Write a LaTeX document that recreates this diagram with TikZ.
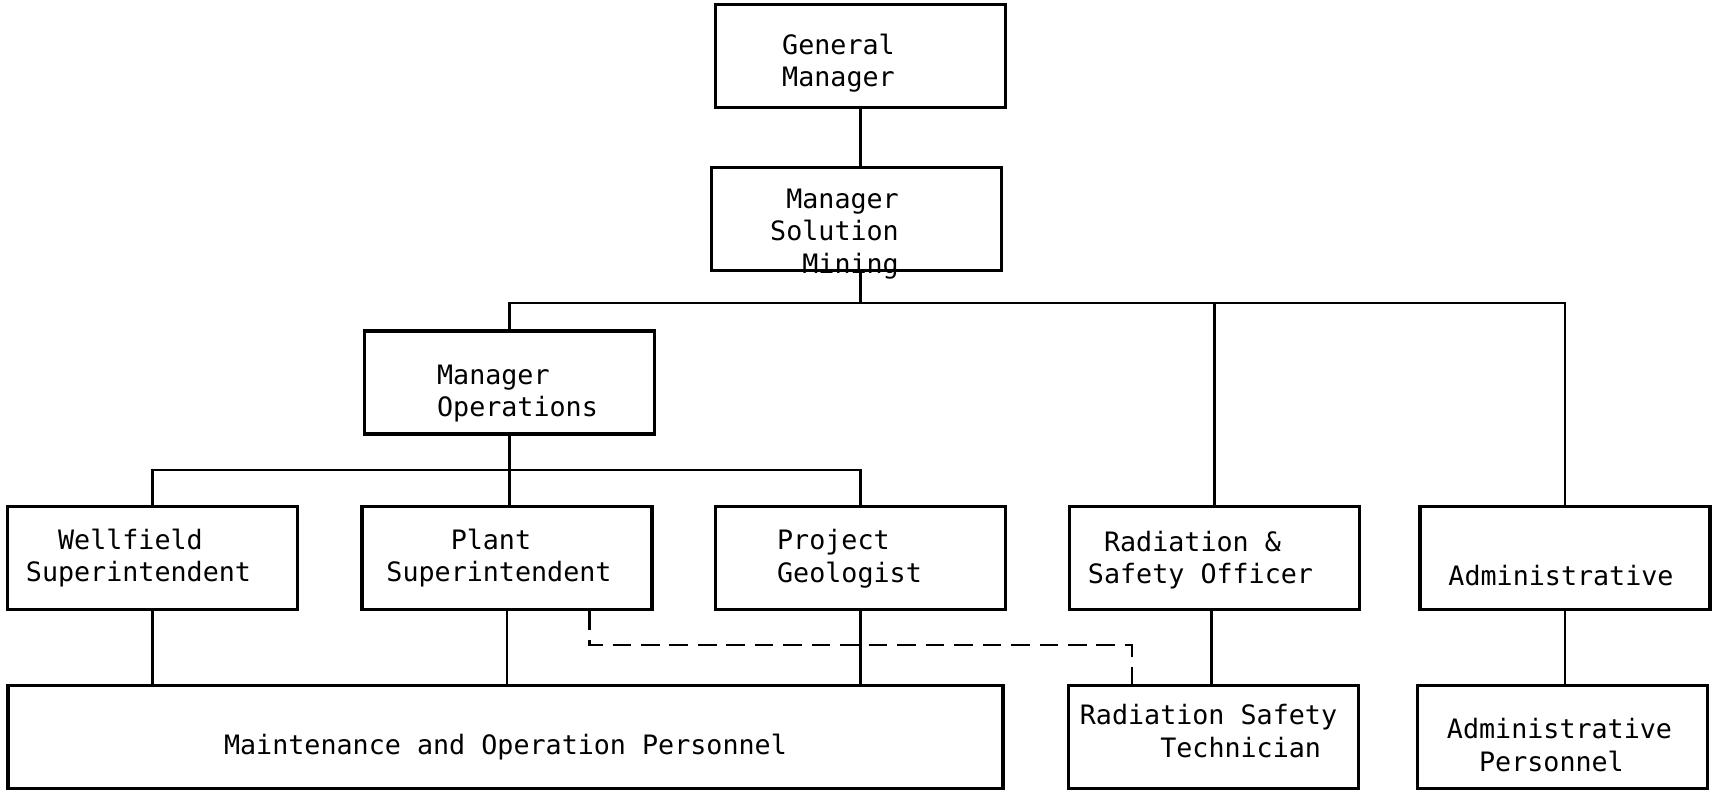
\documentclass[tikz,border=0pt]{standalone}
\usepackage{fontspec}
\setmonofont{DejaVu Sans Mono}
\usepackage{pgf,tikz}
\usetikzlibrary{arrows,shapes}
\tikzstyle{post}=[draw,rectangle,line width=0.9pt,minimum width=2.9cm,minimum height=1.03cm,inner sep=0pt]
\tikzstyle{tag}=[inner sep=0pt,font=\ttfamily\fontsize{7.6}{9.3}\selectfont]
\tikzstyle{line} = [draw,line width=0.7pt]
\tikzstyle{dotline} = [draw,line width=0.7pt,dash pattern=on 5.3pt off 2.8pt]
\newcommand{\ind}[1]{\phantom{#1}}

\begin{document}
\begin{tikzpicture}[scale=1,auto]
    \useasboundingbox (0,0) rectangle (17.14,-7.90);
    \foreach \pos/\name/\w/\al/\off/\txt in {{(8.605,-0.56)/gm/2.9cm/left/(-0.22,-0.07)/{General\\Manager}}, {(8.565,-2.19)/msm/2.9cm/right/(-0.22,-0.15)/{Manager\\Solution\\Mining}}, {(5.095,-3.825)/mops/2.9cm/left/(0.08,-0.11)/{Manager\\Operations}}, {(1.525,-5.58)/wf/2.9cm/left/(-0.14,0)/{\ind{xx}Wellfield\\Superintendent}}, {(5.07,-5.58)/plant/2.9cm/left/(-0.08,0)/{\ind{xxxx}Plant\\Superintendent}}, {(8.605,-5.58)/pg/2.9cm/left/(-0.11,-0.01)/{Project\\Geologist}}, {(12.145,-5.58)/rso/2.9cm/left/(-0.14,-0.02)/{\ind{x}Radiation \&\\Safety Officer}}, {(15.65,-5.58)/adm/2.9cm/left/(-0.04,-0.175)/{Administrative}}, {(5.055,-7.37)/maint/9.95cm/left/(0,-0.10)/{Maintenance and Operation Personnel}}, {(12.135,-7.37)/rst/2.9cm/left/(-0.05,0.06)/{Radiation Safety\\\ind{xxxxx}Technician}}, {(15.625,-7.37)/ap/2.9cm/left/(-0.03,-0.08)/{Administrative\\\ind{xx}Personnel}}}{
        \node[post,minimum width=\w] (\name) at \pos {};
        \node[tag,align=\al] (\name-txt) at ([shift={\off}]\name.center) {\txt};
    }
    \coordinate (bus) at (8.62,-3.03);
    \coordinate (opsbus) at (5.08,-4.70);
    \path[line] (gm.south) -- (gm.south |- msm.north);
    \path[line] (gm.south |- msm.south) -- (gm.south |- bus);
    \path[line] (mops.north) |- (bus) -| (adm.north);
    \path[line] (rso.north) -- (rso.north |- bus);
    \path[line] (mops.south) -- (mops.south |- plant.north);
    \path[line] (wf.north) |- (opsbus) -| (pg.north);
    \foreach \source in {wf, plant, pg}
        \path[line] (\source.south) -- (\source.south |- maint.north);
    \path[line] ([xshift=-0.03cm]rso.south) -- ([xshift=-0.03cm]rso.south |- rst.north);
    \path[line] (adm.south) -- (adm.south |- ap.north);
    \path[dotline] ([xshift=-0.64cm]plant.south east) -- ++(0,-0.34) -| ([xshift=-0.815cm]rst.north);
\end{tikzpicture}
\end{document}
